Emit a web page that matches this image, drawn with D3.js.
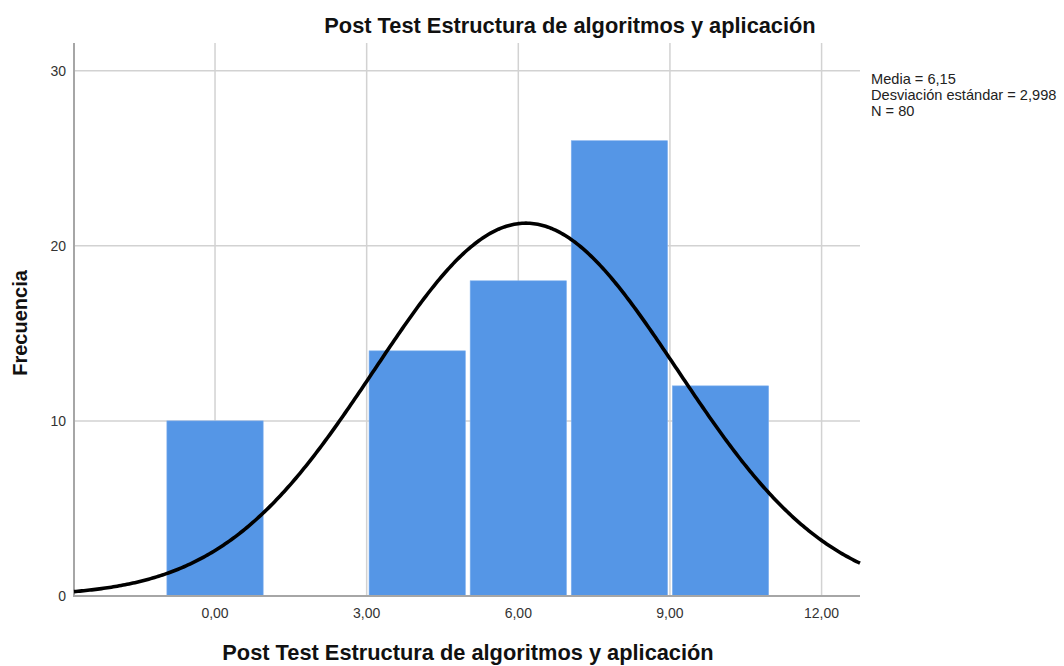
<!DOCTYPE html>
<html>
<head>
<meta charset="utf-8">
<script src="https://cdn.jsdelivr.net/npm/d3@7"></script>
<style>
  html, body { margin: 0; padding: 0; background: #fff; }
  svg { display: block; font-family: "Liberation Sans", Arial, sans-serif; }
</style>
</head>
<body>
<svg id="chart" width="1064" height="666"></svg>
<script>
// Histogram bins (lower edge, upper edge) and counts
const binStarts = [-1, 1, 3, 5, 7, 9];
const binEnds   = [ 1, 3, 5, 7, 9, 11];
const counts    = [10, 0, 14, 18, 26, 12];

// Axis ticks
const xTicks = [0, 3, 6, 9, 12];
const xTickLabels = ["0,00", "3,00", "6,00", "9,00", "12,00"];
const yTicks = [0, 10, 20, 30];

// Summary statistics shown in the legend and used for the normal curve
const mean = 6.15;
const stdDev = 2.998;
const n = 80;
const statLines = ["Media = 6,15", "Desviación estándar = 2,998", "N = 80"];

const title = "Post Test Estructura de algoritmos y aplicación";
const xTitle = "Post Test Estructura de algoritmos y aplicación";
const yTitle = "Frecuencia";

const svg = d3.select("#chart");
const plotLeft = 74, plotRight = 860, plotTop = 43, plotBottom = 596;

const x = d3.scaleLinear().domain([-2.79, 12.76]).range([plotLeft, plotRight]);
const y = d3.scaleLinear().domain([0, 31.58]).range([plotBottom, plotTop]);

const gridColor = "#d2d2d2";

// Grid lines
svg.append("g").selectAll("line").data(yTicks.filter(d => d > 0)).join("line")
  .attr("x1", plotLeft).attr("x2", plotRight)
  .attr("y1", d => y(d)).attr("y2", d => y(d))
  .attr("stroke", gridColor).attr("stroke-width", 1.5);

svg.append("g").selectAll("line").data(xTicks).join("line")
  .attr("x1", d => x(d)).attr("x2", d => x(d))
  .attr("y1", plotTop).attr("y2", plotBottom)
  .attr("stroke", gridColor).attr("stroke-width", 1.5);

// Bars
const bins = binStarts.map((s, i) => ({ x0: s, x1: binEnds[i], count: counts[i] }))
  .filter(d => d.count > 0);
const inset = 2.4;
svg.append("g").selectAll("rect").data(bins).join("rect")
  .attr("x", d => x(d.x0) + inset)
  .attr("width", d => x(d.x1) - x(d.x0) - 2 * inset)
  .attr("y", d => y(d.count))
  .attr("height", d => y(0) - y(d.count))
  .attr("fill", "#5596e6")
  .attr("stroke", "#7fb0ee")
  .attr("stroke-width", 0.6);

// Axis lines
svg.append("line").attr("x1", plotLeft).attr("x2", plotLeft).attr("y1", plotTop).attr("y2", plotBottom + 1)
  .attr("stroke", "#a6a6a6").attr("stroke-width", 2);
svg.append("line").attr("x1", plotLeft).attr("x2", plotRight).attr("y1", plotBottom).attr("y2", plotBottom)
  .attr("stroke", "#a6a6a6").attr("stroke-width", 2);

// Tick labels
svg.append("g").selectAll("text").data(yTicks).join("text")
  .attr("x", plotLeft - 8).attr("y", d => y(d) + 5)
  .attr("text-anchor", "end")
  .attr("font-size", 14).attr("fill", "#333")
  .text(d => d);

svg.append("g").selectAll("text").data(xTicks).join("text")
  .attr("x", d => x(d)).attr("y", plotBottom + 22)
  .attr("text-anchor", "middle")
  .attr("font-size", 14).attr("fill", "#333")
  .text((d, i) => xTickLabels[i]);

// Normal curve scaled to counts per bin
const binWidth = binEnds[0] - binStarts[0];
const density = v => n * binWidth / (stdDev * Math.sqrt(2 * Math.PI)) *
  Math.exp(-0.5 * Math.pow((v - mean) / stdDev, 2));
const [d0, d1] = x.domain();
const curvePts = d3.range(0, 401).map(i => d0 + (d1 - d0) * i / 400);
svg.append("path")
  .datum(curvePts)
  .attr("d", d3.line().x(v => x(v)).y(v => y(density(v))))
  .attr("fill", "none")
  .attr("stroke", "#000")
  .attr("stroke-width", 3.6)
  .attr("stroke-linejoin", "round");

// Titles
svg.append("text")
  .attr("x", 570).attr("y", 33)
  .attr("text-anchor", "middle")
  .attr("font-size", 21.8).attr("font-weight", "bold").attr("fill", "#111")
  .text(title);

svg.append("text")
  .attr("x", (plotLeft + plotRight) / 2 + 1).attr("y", 660)
  .attr("text-anchor", "middle")
  .attr("font-size", 21.8).attr("font-weight", "bold").attr("fill", "#111")
  .text(xTitle);

svg.append("text")
  .attr("transform", `translate(27, 323) rotate(-90)`)
  .attr("text-anchor", "middle")
  .attr("font-size", 20).attr("font-weight", "bold").attr("fill", "#111")
  .text(yTitle);

// Summary statistics
svg.append("g").selectAll("text").data(statLines).join("text")
  .attr("x", 871).attr("y", (d, i) => 84 + i * 16)
  .attr("font-size", 14.6).attr("fill", "#222")
  .text(d => d);
</script>
</body>
</html>
